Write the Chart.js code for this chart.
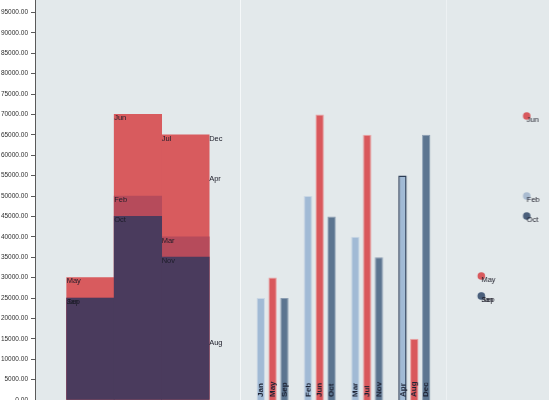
<!DOCTYPE html>
<html>
<head>
<meta charset="utf-8">
<script src="https://cdn.jsdelivr.net/npm/chart.js@4.4.1/dist/chart.umd.min.js"></script>
<style>
  html, body { margin: 0; padding: 0; width: 549px; height: 400px; overflow: hidden; background: #ffffff; }
  #plotBg { position: absolute; left: 35px; top: 0; width: 514px; height: 400px; background: #e3e9eb; }
  .panel { position: absolute; top: -8px; }
  #p1 { left: 0; }
  #p2 { left: 241px; border-left: 1px solid #f5f8f9; margin-left: -1px; }
  #p3 { left: 447px; border-left: 1px solid #edf1f3; margin-left: -1px; }
</style>
</head>
<body>
<div id="plotBg"></div>
<canvas id="p1" class="panel" width="241" height="408"></canvas>
<canvas id="p2" class="panel" width="206" height="408"></canvas>
<canvas id="p3" class="panel" width="206" height="408"></canvas>
<script>
// groups on the x axis (0..3), three month series per group
const groups = [0, 1, 2, 3];
const monthsA = ['Jan', 'Feb', 'Mar', 'Apr'];
const valuesA = [25000, 50000, 40000, 55000];
const monthsB = ['May', 'Jun', 'Jul', 'Aug'];
const valuesB = [30000, 70000, 65000, 15000];
const monthsC = ['Sep', 'Oct', 'Nov', 'Dec'];
const valuesC = [25000, 45000, 35000, 65000];

const yMin = 0;
const yMax = 100000;
const yStep = 5000;

const FONT = '"Liberation Sans", Arial, sans-serif';
const xRange = { min: -0.667, max: 3.67 };

const series = [
    { months: monthsB, values: valuesB, order: 3, fill1: '#d85b5e', fill2: '#d9585c', edge2: '#eaa0a0', point: '#d8595d' },
    { months: monthsA, values: valuesA, order: 2, fill1: '#b64b5b', fill2: '#a1bad5', edge2: '#c8d6e4', point: '#a9bbd0' },
    { months: monthsC, values: valuesC, order: 1, fill1: '#4a3b5d', fill2: '#5c7590', edge2: '#8a9db2', point: '#4a5f7b' }
];

const intTicks = scale => { scale.ticks = groups.map(v => ({ value: v })); };

const baseY = (show) => ({
    min: yMin,
    max: yMax,
    display: show,
    afterFit: scale => {
        if (show) scale.width = 35;
        scale.paddingTop = 0;
        scale.paddingBottom = 0;
    },
    border: { display: show, color: '#5a5a5a', width: 1 },
    grid: { display: show, drawOnChartArea: false, tickLength: 4, color: '#5a5a5a' },
    ticks: {
        stepSize: yStep,
        padding: 3,
        color: '#2e2e2e',
        font: { family: FONT, size: 6.5 },
        callback: v => Number(v).toFixed(2)
    }
});

const baseX = () => ({
    type: 'linear',
    min: xRange.min,
    max: xRange.max,
    offset: false,
    display: false,
    afterBuildTicks: intTicks
});

const common = {
    responsive: false,
    animation: false,
    layout: { padding: 0 },
    plugins: { legend: { display: false }, tooltip: { enabled: false } }
};

// month names: top-left corner labels (panel 1 & 3), rotated labels in bars (panel 2)
const monthLabels = {
    id: 'monthLabels',
    afterDatasetsDraw(chart, args, opts) {
        const ctx = chart.ctx;
        const xs = chart.scales.x, ys = chart.scales.y;
        ctx.save();
        ctx.fillStyle = '#1d1d29';
        if (opts.mode === 'rotated') {
            ctx.font = 'bold 8px ' + FONT;
            ctx.fillStyle = '#1c2233';
            ctx.textAlign = 'left';
            ctx.textBaseline = 'middle';
            chart.data.datasets.forEach((ds, di) => {
                chart.getDatasetMeta(di).data.forEach((bar, i) => {
                    ctx.save();
                    ctx.translate(bar.x, bar.base - 3);
                    ctx.rotate(-Math.PI / 2);
                    ctx.fillText(ds.months[i], 0, 0);
                    ctx.restore();
                });
            });
        } else {
            ctx.font = '7.5px ' + FONT;
            ctx.textAlign = 'left';
            ctx.textBaseline = 'top';
            [...series].reverse().forEach(s => {
                groups.forEach(g => {
                    ctx.fillText(s.months[g], xs.getPixelForValue(g), ys.getPixelForValue(s.values[g]));
                });
            });
        }
        ctx.restore();
    }
};

// panel 1: each group's bar reaches to the next group, series overlap
new Chart(document.getElementById('p1'), {
    type: 'bar',
    data: {
        datasets: series.map(s => ({
            data: groups.slice(0, -1).map(g => ({ x: g + 0.5, y: s.values[g] })),
            backgroundColor: s.fill1,
            borderWidth: 0,
            order: s.order,
            grouped: false,
            categoryPercentage: 1,
            barPercentage: 1
        }))
    },
    options: { ...common, scales: { x: baseX(), y: baseY(true) },
        plugins: { ...common.plugins, monthLabels: { mode: 'corner' } } },
    plugins: [monthLabels]
});

// panel 2: grouped bars
new Chart(document.getElementById('p2'), {
    type: 'bar',
    data: {
        datasets: [series[1], series[0], series[2]].map(s => ({
            months: s.months,
            data: groups.map(g => ({ x: g, y: s.values[g] })),
            backgroundColor: s.fill2,
            borderColor: c => (s.months[c.dataIndex] === 'Apr' ? '#2c3c55' : s.edge2),
            borderWidth: c => (s.months[c.dataIndex] === 'Apr' ? 1.5 : 1),
            borderSkipped: 'bottom',
            categoryPercentage: 0.75,
            barPercentage: 0.7
        }))
    },
    options: { ...common, scales: { x: baseX(), y: baseY(false) },
        plugins: { ...common.plugins, monthLabels: { mode: 'rotated' } } },
    plugins: [monthLabels]
});

// panel 3: points
new Chart(document.getElementById('p3'), {
    type: 'scatter',
    data: {
        datasets: series.map(s => ({
            data: groups.map(g => ({ x: g, y: s.values[g] })),
            backgroundColor: s.point,
            borderColor: s.point,
            borderWidth: 0,
            pointRadius: 3.8,
            order: s.order
        }))
    },
    options: { ...common, scales: { x: baseX(), y: baseY(false) },
        plugins: { ...common.plugins, monthLabels: { mode: 'corner' } } },
    plugins: [monthLabels]
});
</script>
</body>
</html>
